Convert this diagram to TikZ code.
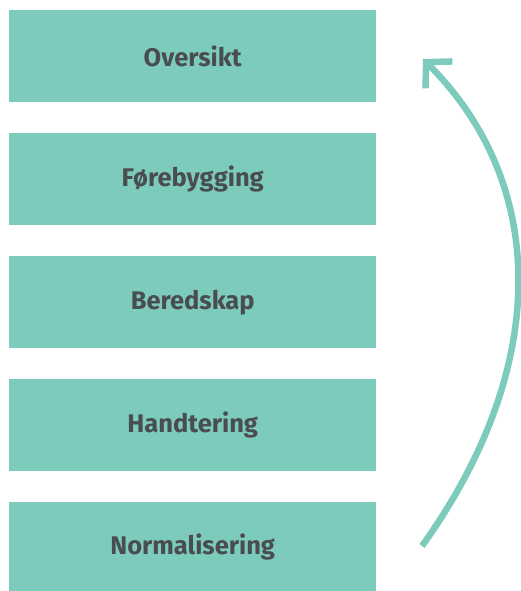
\documentclass[tikz,border=0pt]{standalone}
\usepackage{fontspec}
\setmainfont{Fira Sans}
\usetikzlibrary{arrows.meta}
\definecolor{teal}{HTML}{7CCBBD}
\definecolor{txt}{HTML}{4A4D50}
\newcommand{\lowtxt}[1]{\raisebox{-2pt}{#1}}
\begin{document}
\begin{tikzpicture}[x=1pt,y=-1pt,
  stage/.style={fill=teal, draw=none, minimum width=367pt, minimum height=92pt,
    inner sep=0pt, font=\fontsize{25.5}{28}\selectfont\bfseries, text=txt, anchor=north west},
  flow/.style={draw=teal, line width=6.5pt, line cap=butt,
    -{Straight Barb[length=18pt,width=38pt,line cap=butt,line join=miter]}}]
\useasboundingbox (0,0) rectangle (520,591);
\node[stage] (o) at (9,10) {\lowtxt{Oversikt}};
\node[stage] (f) at (9,133) {\lowtxt{Førebygging}};
\node[stage] (b) at (9,256) {\lowtxt{Beredskap}};
\node[stage] (h) at (9,379) {\lowtxt{Handtering}};
\node[stage, minimum height=89pt] (n) at (9,502) {\lowtxt{Normalisering}};
\coordinate (s) at (422,546);
\coordinate (e) at (423,59);
\draw[flow] (s) .. controls (549,369) and (550,186) .. (e);
\end{tikzpicture}
\end{document}
